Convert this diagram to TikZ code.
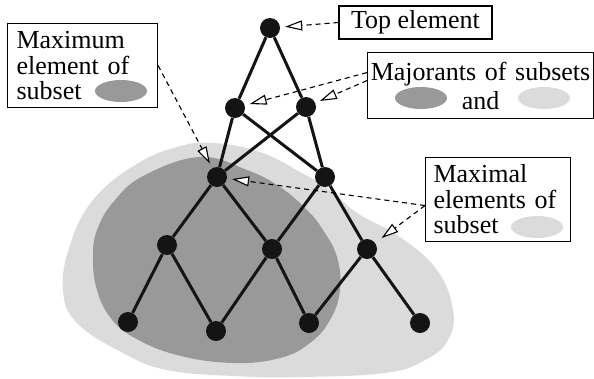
\documentclass[tikz,border=0pt]{standalone}
\usepackage{fontspec}
\setmainfont{Liberation Serif}
\usetikzlibrary{arrows.meta,shapes.geometric}

\begin{document}
\begin{tikzpicture}[x=1pt,y=-1pt,
    elem/.style={circle,fill=black!92,minimum size=20pt,inner sep=0pt},
    link/.style={line width=3pt,draw=black!92},
    lbl/.style={draw,fill=white,line width=1.1pt,inner sep=0pt,font=\fontsize{26}{25.5}\selectfont},
    setkey/.style={ellipse,minimum width=52pt,minimum height=22pt,inner sep=0pt},
    pointer/.style={dash pattern=on 5pt off 4pt,line width=1.1pt,shorten >=5pt,
        -{Triangle[length=17pt,width=10pt,fill=white]}}]
    \useasboundingbox (0,0) rectangle (594,378);

    % subsets
    \fill[black!14] plot[smooth cycle,tension=0.7] coordinates {(213,143) (260,152) (300,172) (330,190)
        (357,213) (400,237) (437,270) (453,310) (448,340) (425,360) (385,373) (300,377) (233,376)
        (167,370) (123,353) (77,323) (63,290) (70,245) (93,200) (135,165) (177,147)};
    \fill[black!40] plot[smooth cycle,tension=0.7] coordinates {(200,157) (247,170) (280,187) (307,210)
        (323,230) (337,257) (340,290) (330,320) (310,343) (280,358) (233,363) (177,355) (133,337)
        (110,317) (97,290) (93,260) (97,230) (115,200) (145,175)};

    % Nodes
    \node[elem] (top) at (270,28) {};
    \node[elem] (a1) at (235,108) {};
    \node[elem] (a2) at (306,107) {};
    \node[elem] (b1) at (217,177) {};
    \node[elem] (b2) at (325,177) {};
    \node[elem] (c1) at (167,245) {};
    \node[elem] (c2) at (272,249) {};
    \node[elem] (c3) at (367,249) {};
    \node[elem] (d1) at (128,322) {};
    \node[elem] (d2) at (216,331) {};
    \node[elem] (d3) at (309,323) {};
    \node[elem] (d4) at (420,323) {};

    % Lines
    \draw[link] (top) -- (a1);
    \draw[link] (top) -- (a2);
    \draw[link] (a1) -- (b1);
    \draw[link] (a1) -- (b2);
    \draw[link] (a2) -- (b1);
    \draw[link] (a2) -- (b2);
    \draw[link] (b1) -- (c1);
    \draw[link] (b1) -- (c2);
    \draw[link] (b2) -- (c2);
    \draw[link] (b2) -- (c3);
    \draw[link] (c1) -- (d1);
    \draw[link] (c1) -- (d2);
    \draw[link] (c2) -- (d2);
    \draw[link] (c2) -- (d3);
    \draw[link] (c3) -- (d3);
    \draw[link] (c3) -- (d4);

    % labels
    \node[lbl,minimum width=153pt,minimum height=33pt] (top-box) at (415.5,22.5) {Top element};
    \node[lbl,anchor=north west,text width=226pt,minimum height=66pt,align=center,
        font=\fontsize{26}{29}\selectfont] (maj-box) at (367,52) {Majorants of subsets\\and};
    \node[lbl,anchor=north west,text width=132pt,inner xsep=9pt,minimum height=84pt,align=left]
        (max-box) at (7,23) {Maximum\\element of\\subset};
    \node[lbl,anchor=north west,text width=129pt,inner xsep=8pt,minimum height=84pt,align=left]
        (mxl-box) at (425,157) {Maximal\\elements of\\subset};

    \node[setkey,fill=black!40] (max-key) at (121,91) {};
    \node[setkey,fill=black!40] (maj-key1) at (421,98) {};
    \node[setkey,fill=black!14] (maj-key2) at (544,98) {};
    \node[setkey,fill=black!14] (mxl-key) at (537,227) {};

    % pointers
    \draw[pointer] (top-box.west) -- (top);
    \draw[pointer] ([yshift=13pt]maj-box.west) -- (a1);
    \draw[pointer] ([yshift=5pt]maj-box.west) -- (a2);
    \draw[pointer] (max-box.east) -- (b1);
    \draw[pointer] ([yshift=-6pt]mxl-box.west) -- (b1);
    \draw[pointer,shorten >=8pt] ([yshift=-6pt]mxl-box.west) -- (c3);
\end{tikzpicture}
\end{document}
